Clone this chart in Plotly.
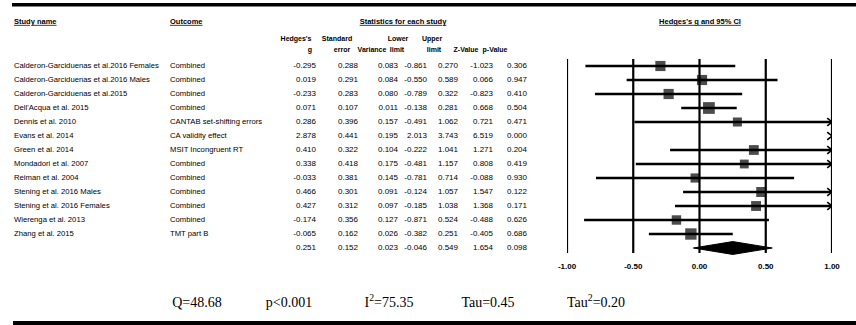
import math
import plotly.graph_objects as go

# ---------------- data ----------------
studies = [
    "Calderon-Garciduenas et al.2016 Females",
    "Calderon-Garciduenas et al.2016 Males",
    "Calderon-Garciduenas et al.2015",
    "Dell'Acqua et al. 2015",
    "Dennis et al. 2010",
    "Evans et al. 2014",
    "Green et al. 2014",
    "Mondadori et al. 2007",
    "Reiman et al. 2004",
    "Stening et al. 2016 Males",
    "Stening et al. 2016 Females",
    "Wierenga et al. 2013",
    "Zhang et al. 2015",
]
outcomes = [
    "Combined", "Combined", "Combined", "Combined",
    "CANTAB set-shifting errors", "CA validity effect", "MSIT Incongruent RT",
    "Combined", "Combined", "Combined", "Combined", "Combined", "TMT part B",
]
hedges_g = [-0.295, 0.019, -0.233, 0.071, 0.286, 2.878, 0.410, 0.338, -0.033, 0.466, 0.427, -0.174, -0.065]
std_err = [0.288, 0.291, 0.283, 0.107, 0.396, 0.441, 0.322, 0.418, 0.381, 0.301, 0.312, 0.356, 0.162]
variance = [0.083, 0.084, 0.080, 0.011, 0.157, 0.195, 0.104, 0.175, 0.145, 0.091, 0.097, 0.127, 0.026]
lower_limit = [-0.861, -0.550, -0.789, -0.138, -0.491, 2.013, -0.222, -0.481, -0.781, -0.124, -0.185, -0.871, -0.382]
upper_limit = [0.270, 0.589, 0.322, 0.281, 1.062, 3.743, 1.041, 1.157, 0.714, 1.057, 1.038, 0.524, 0.251]
z_value = [-1.023, 0.066, -0.823, 0.668, 0.721, 6.519, 1.271, 0.808, -0.088, 1.547, 1.368, -0.488, -0.405]
p_value = [0.306, 0.947, 0.410, 0.504, 0.471, 0.000, 0.204, 0.419, 0.930, 0.122, 0.171, 0.626, 0.686]

pooled_g = 0.251
pooled_se = 0.152
pooled_var = 0.023
pooled_lower = -0.046
pooled_upper = 0.549
pooled_z = 1.654
pooled_p = 0.098

tau2 = 0.20
axis_ticks = [-1.0, -0.5, 0.0, 0.5, 1.0]
axis_tick_labels = ["-1.00", "-0.50", "0.00", "0.50", "1.00"]
heterogeneity = ["Q=48.68", "p<0.001", "I<sup>2</sup>=75.35", "Tau=0.45", "Tau<sup>2</sup>=0.20"]

# ---------------- layout helpers ----------------
W, H = 856, 325
ROW0_PX, ROW_PX = 66, 14          # pixel y of first row and row pitch
n = len(studies)
rows = list(range(n))
pooled_row = n

def row_of_px(px):
    return (px - ROW0_PX) / ROW_PX

SANS = "Liberation Sans, Arial, sans-serif"
SERIF = "Liberation Serif, Times New Roman, serif"
FS = 8

fig = go.Figure()

# ---- forest-plot marks (x axis = Hedges's g) ----
ci_x, ci_y = [], []
arr_x, arr_y = [], []
dx = 0.036
for i in rows:
    lo = max(lower_limit[i], -1.0)
    hi = min(upper_limit[i], 1.0)
    if lo < hi:
        ci_x += [lo, hi, None]
        ci_y += [i, i, None]
    if upper_limit[i] > 1.0:
        arr_x += [1.0 - dx, 1.0, 1.0 - dx, None]
        arr_y += [i - 0.28, i, i + 0.28, None]

fig.add_trace(go.Scatter(x=ci_x, y=ci_y, mode="lines",
                         line=dict(color="black", width=2.4), cliponaxis=False,
                         xaxis="x", yaxis="y", hoverinfo="skip"))
fig.add_trace(go.Scatter(x=arr_x, y=arr_y, mode="lines",
                         line=dict(color="black", width=1.6), cliponaxis=False,
                         xaxis="x", yaxis="y", hoverinfo="skip"))

sizes = [5.4 * math.sqrt(1.0 / (v + tau2)) for v in variance]
vis = [i for i in rows if -1.0 <= hedges_g[i] <= 1.0]
fig.add_trace(go.Scatter(x=[hedges_g[i] for i in vis], y=vis, mode="markers",
                         marker=dict(symbol="square", color="black",
                                     size=[sizes[i] for i in vis], line=dict(width=0)),
                         cliponaxis=False, xaxis="x", yaxis="y"))

hh = 0.46
fig.add_trace(go.Scatter(
    x=[pooled_lower, pooled_g, pooled_upper, pooled_g, pooled_lower],
    y=[pooled_row, pooled_row - hh, pooled_row, pooled_row + hh, pooled_row],
    mode="lines", fill="toself", fillcolor="black", cliponaxis=False,
    line=dict(color="black", width=1), xaxis="x", yaxis="y"))

# axis tick labels
fig.add_trace(go.Scatter(x=axis_ticks, y=[row_of_px(267)] * len(axis_ticks),
                         mode="text", text=[f"<b>{t}</b>" for t in axis_tick_labels],
                         textposition="middle center", cliponaxis=False,
                         textfont=dict(family=SANS, size=FS, color="black"),
                         xaxis="x", yaxis="y"))

# vertical reference lines
shapes = []
for t in axis_ticks:
    shapes.append(dict(type="line", xref="x", yref="y", x0=t, x1=t,
                       y0=row_of_px(59), y1=row_of_px(253),
                       line=dict(color="black", width=2.2)))

# ---- table text (x2 axis = pixel columns) ----
def col(xpx, texts, pos, bold=False, ys=None, font=SANS, size=FS):
    fig.add_trace(go.Scatter(
        x=[xpx] * len(texts), y=ys if ys is not None else rows[:len(texts)],
        mode="text", text=[f"<b>{t}</b>" if bold else t for t in texts],
        textposition=pos, textfont=dict(family=font, size=size, color="black"),
        cliponaxis=False, xaxis="x2", yaxis="y", hoverinfo="skip"))

col(14, studies, "middle right", size=7.7)
col(170, outcomes, "middle right", size=7.7)
num_cols = [
    (316, hedges_g, pooled_g),
    (358, std_err, pooled_se),
    (398, variance, pooled_var),
    (427, lower_limit, pooled_lower),
    (458, upper_limit, pooled_upper),
    (493, z_value, pooled_z),
    (527, p_value, pooled_p),
]
for xpx, vals, pooled in num_cols:
    texts = [f"{v:.3f}" for v in vals] + [f"{pooled:.3f}"]
    col(xpx, texts, "middle left", ys=rows + [pooled_row])

# headers
HS = 7
yh0 = row_of_px(22)
yh1 = row_of_px(39)
yh2 = row_of_px(50)
col(14, ["<u>Study name</u>"], "middle right", bold=True, ys=[yh0], size=7.5)
col(170, ["<u>Outcome</u>"], "middle right", bold=True, ys=[yh0], size=7.5)
col(403, ["<u>Statistics for each study</u>"], "middle center", bold=True, ys=[yh0], size=7.5)
col(700, ["<u>Hedges's g and 95% CI</u>"], "middle center", bold=True, ys=[yh0], size=7.5)
for xpx, t in [(296, "Hedges's"), (337, "Standard"), (398, "Lower"), (432, "Upper")]:
    col(xpx, [t], "middle center", bold=True, ys=[yh1], size=HS)
for xpx, t in [(310, "g"), (342, "error"), (372, "Variance"), (397, "limit"),
               (434, "limit"), (466, "Z-Value"), (495, "p-Value")]:
    col(xpx, [t], "middle center", bold=True, ys=[yh2], size=HS)

# heterogeneity stats
stat_x = [197, 289, 389, 488, 596]
for xpx, t in zip(stat_x, heterogeneity):
    col(xpx, [t], "middle center", ys=[row_of_px(303)], font=SERIF, size=14)

# horizontal rules (filled bands in paper coordinates)
shapes.append(dict(type="rect", xref="paper", yref="paper", x0=12 / W, x1=1,
                   y0=1 - 6.5 / H, y1=1 - 3 / H, fillcolor="black",
                   line=dict(width=0), layer="above"))
shapes.append(dict(type="rect", xref="paper", yref="paper", x0=13 / W, x1=1,
                   y0=1 - 325 / H, y1=1 - 321 / H, fillcolor="black",
                   line=dict(width=0), layer="above"))

fig.update_layout(
    width=W, height=H, margin=dict(l=0, r=0, t=0, b=0),
    paper_bgcolor="white", plot_bgcolor="rgba(0,0,0,0)",
    showlegend=False, shapes=shapes, hovermode=False,
    xaxis=dict(domain=[567 / W, 832 / W], range=[-1, 1], visible=False, anchor="y"),
    xaxis2=dict(domain=[0, 1], range=[0, W], visible=False, anchor="y"),
    yaxis=dict(domain=[0, 1], range=[row_of_px(H), row_of_px(0)], visible=False),
)

fig.write_html(
    "out.html",
    config={"displayModeBar": False, "staticPlot": True},
    post_script=("document.documentElement.style.margin='0';"
                 "document.body.style.margin='0';"
                 "document.body.style.overflow='hidden';"
                 "window.scrollTo(0,0);"),
)
